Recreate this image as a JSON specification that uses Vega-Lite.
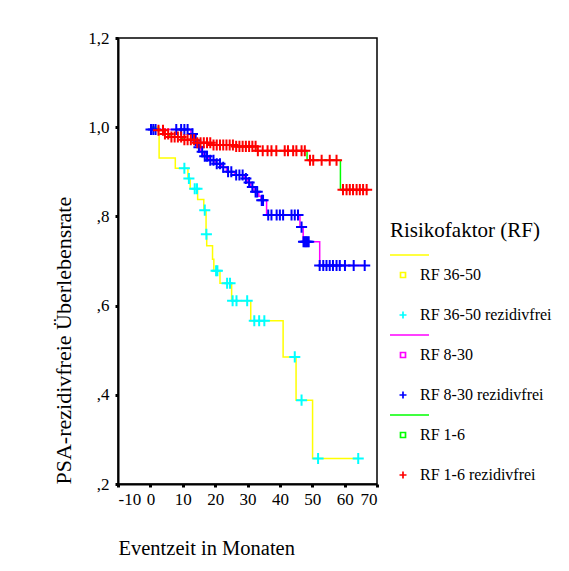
{
  "$schema": "https://vega.github.io/schema/vega-lite/v6.json",
  "width": 259,
  "height": 446,
  "autosize": "none",
  "padding": {"left": 118, "top": 38, "right": 192, "bottom": 87},
  "background": "white",
  "config": {
    "view": {"stroke": "black", "strokeWidth": 1.5},
    "font": "'Liberation Serif', 'Times New Roman', serif"
  },
  "datasets": {
    "km": [
      {"kurve": "RF 36-50", "monate": 0, "rate": 1.0},
      {"kurve": "RF 36-50", "monate": 2.7, "rate": 0.931},
      {"kurve": "RF 36-50", "monate": 7.7, "rate": 0.908},
      {"kurve": "RF 36-50", "monate": 11.6, "rate": 0.885},
      {"kurve": "RF 36-50", "monate": 12.3, "rate": 0.862},
      {"kurve": "RF 36-50", "monate": 14.6, "rate": 0.838},
      {"kurve": "RF 36-50", "monate": 16.5, "rate": 0.814},
      {"kurve": "RF 36-50", "monate": 17.2, "rate": 0.760},
      {"kurve": "RF 36-50", "monate": 17.4, "rate": 0.734},
      {"kurve": "RF 36-50", "monate": 19.2, "rate": 0.704},
      {"kurve": "RF 36-50", "monate": 19.6, "rate": 0.678},
      {"kurve": "RF 36-50", "monate": 21.5, "rate": 0.650},
      {"kurve": "RF 36-50", "monate": 25.1, "rate": 0.611},
      {"kurve": "RF 36-50", "monate": 31.0, "rate": 0.566},
      {"kurve": "RF 36-50", "monate": 41.0, "rate": 0.485},
      {"kurve": "RF 36-50", "monate": 45.0, "rate": 0.388},
      {"kurve": "RF 36-50", "monate": 50.1, "rate": 0.257},
      {"kurve": "RF 36-50", "monate": 64.2, "rate": 0.257},

      {"kurve": "RF 36-50 rezidivfrei", "monate": 10.5, "rate": 0.908},
      {"kurve": "RF 36-50 rezidivfrei", "monate": 11.9, "rate": 0.885},
      {"kurve": "RF 36-50 rezidivfrei", "monate": 13.7, "rate": 0.862},
      {"kurve": "RF 36-50 rezidivfrei", "monate": 14.4, "rate": 0.862},
      {"kurve": "RF 36-50 rezidivfrei", "monate": 16.8, "rate": 0.814},
      {"kurve": "RF 36-50 rezidivfrei", "monate": 17.3, "rate": 0.760},
      {"kurve": "RF 36-50 rezidivfrei", "monate": 20.3, "rate": 0.678},
      {"kurve": "RF 36-50 rezidivfrei", "monate": 20.7, "rate": 0.678},
      {"kurve": "RF 36-50 rezidivfrei", "monate": 23.7, "rate": 0.650},
      {"kurve": "RF 36-50 rezidivfrei", "monate": 24.6, "rate": 0.650},
      {"kurve": "RF 36-50 rezidivfrei", "monate": 25.4, "rate": 0.611},
      {"kurve": "RF 36-50 rezidivfrei", "monate": 26.6, "rate": 0.611},
      {"kurve": "RF 36-50 rezidivfrei", "monate": 29.9, "rate": 0.611},
      {"kurve": "RF 36-50 rezidivfrei", "monate": 32.1, "rate": 0.566},
      {"kurve": "RF 36-50 rezidivfrei", "monate": 33.6, "rate": 0.566},
      {"kurve": "RF 36-50 rezidivfrei", "monate": 35.2, "rate": 0.566},
      {"kurve": "RF 36-50 rezidivfrei", "monate": 44.6, "rate": 0.485},
      {"kurve": "RF 36-50 rezidivfrei", "monate": 46.7, "rate": 0.388},
      {"kurve": "RF 36-50 rezidivfrei", "monate": 51.8, "rate": 0.257},
      {"kurve": "RF 36-50 rezidivfrei", "monate": 64.2, "rate": 0.257},

      {"kurve": "RF 8-30", "monate": 0, "rate": 1.0},
      {"kurve": "RF 8-30", "monate": 0.5, "rate": 0.995},
      {"kurve": "RF 8-30", "monate": 12.5, "rate": 0.985},
      {"kurve": "RF 8-30", "monate": 13.5, "rate": 0.97},
      {"kurve": "RF 8-30", "monate": 14.5, "rate": 0.955},
      {"kurve": "RF 8-30", "monate": 15.5, "rate": 0.945},
      {"kurve": "RF 8-30", "monate": 16.5, "rate": 0.935},
      {"kurve": "RF 8-30", "monate": 18.0, "rate": 0.926},
      {"kurve": "RF 8-30", "monate": 20.0, "rate": 0.918},
      {"kurve": "RF 8-30", "monate": 22.0, "rate": 0.91},
      {"kurve": "RF 8-30", "monate": 23.5, "rate": 0.90},
      {"kurve": "RF 8-30", "monate": 26.0, "rate": 0.893},
      {"kurve": "RF 8-30", "monate": 29.0, "rate": 0.885},
      {"kurve": "RF 8-30", "monate": 30.0, "rate": 0.876},
      {"kurve": "RF 8-30", "monate": 31.0, "rate": 0.866},
      {"kurve": "RF 8-30", "monate": 32.0, "rate": 0.855},
      {"kurve": "RF 8-30", "monate": 33.5, "rate": 0.845},
      {"kurve": "RF 8-30", "monate": 34.2, "rate": 0.836},
      {"kurve": "RF 8-30", "monate": 35.9, "rate": 0.803},
      {"kurve": "RF 8-30", "monate": 46.2, "rate": 0.776},
      {"kurve": "RF 8-30", "monate": 47.2, "rate": 0.743},
      {"kurve": "RF 8-30", "monate": 52.3, "rate": 0.69},
      {"kurve": "RF 8-30", "monate": 66.2, "rate": 0.69},

      {"kurve": "RF 8-30 rezidivfrei", "monate": 0.2, "rate": 0.995},
      {"kurve": "RF 8-30 rezidivfrei", "monate": 0.9, "rate": 0.995},
      {"kurve": "RF 8-30 rezidivfrei", "monate": 1.6, "rate": 0.995},
      {"kurve": "RF 8-30 rezidivfrei", "monate": 8.0, "rate": 0.995},
      {"kurve": "RF 8-30 rezidivfrei", "monate": 9.5, "rate": 0.995},
      {"kurve": "RF 8-30 rezidivfrei", "monate": 10.5, "rate": 0.995},
      {"kurve": "RF 8-30 rezidivfrei", "monate": 11.5, "rate": 0.995},
      {"kurve": "RF 8-30 rezidivfrei", "monate": 13.0, "rate": 0.985},
      {"kurve": "RF 8-30 rezidivfrei", "monate": 14.0, "rate": 0.97},
      {"kurve": "RF 8-30 rezidivfrei", "monate": 15.0, "rate": 0.955},
      {"kurve": "RF 8-30 rezidivfrei", "monate": 16.0, "rate": 0.945},
      {"kurve": "RF 8-30 rezidivfrei", "monate": 16.8, "rate": 0.935},
      {"kurve": "RF 8-30 rezidivfrei", "monate": 17.5, "rate": 0.935},
      {"kurve": "RF 8-30 rezidivfrei", "monate": 18.5, "rate": 0.926},
      {"kurve": "RF 8-30 rezidivfrei", "monate": 19.5, "rate": 0.926},
      {"kurve": "RF 8-30 rezidivfrei", "monate": 20.5, "rate": 0.918},
      {"kurve": "RF 8-30 rezidivfrei", "monate": 21.5, "rate": 0.918},
      {"kurve": "RF 8-30 rezidivfrei", "monate": 22.5, "rate": 0.91},
      {"kurve": "RF 8-30 rezidivfrei", "monate": 24.0, "rate": 0.90},
      {"kurve": "RF 8-30 rezidivfrei", "monate": 25.0, "rate": 0.90},
      {"kurve": "RF 8-30 rezidivfrei", "monate": 26.5, "rate": 0.893},
      {"kurve": "RF 8-30 rezidivfrei", "monate": 27.5, "rate": 0.893},
      {"kurve": "RF 8-30 rezidivfrei", "monate": 28.5, "rate": 0.893},
      {"kurve": "RF 8-30 rezidivfrei", "monate": 29.5, "rate": 0.885},
      {"kurve": "RF 8-30 rezidivfrei", "monate": 30.5, "rate": 0.876},
      {"kurve": "RF 8-30 rezidivfrei", "monate": 31.5, "rate": 0.866},
      {"kurve": "RF 8-30 rezidivfrei", "monate": 32.5, "rate": 0.855},
      {"kurve": "RF 8-30 rezidivfrei", "monate": 33.0, "rate": 0.855},
      {"kurve": "RF 8-30 rezidivfrei", "monate": 34.4, "rate": 0.836},
      {"kurve": "RF 8-30 rezidivfrei", "monate": 34.8, "rate": 0.836},
      {"kurve": "RF 8-30 rezidivfrei", "monate": 36.4, "rate": 0.803},
      {"kurve": "RF 8-30 rezidivfrei", "monate": 37.4, "rate": 0.803},
      {"kurve": "RF 8-30 rezidivfrei", "monate": 39.0, "rate": 0.803},
      {"kurve": "RF 8-30 rezidivfrei", "monate": 40.0, "rate": 0.803},
      {"kurve": "RF 8-30 rezidivfrei", "monate": 41.0, "rate": 0.803},
      {"kurve": "RF 8-30 rezidivfrei", "monate": 43.6, "rate": 0.803},
      {"kurve": "RF 8-30 rezidivfrei", "monate": 44.6, "rate": 0.803},
      {"kurve": "RF 8-30 rezidivfrei", "monate": 45.6, "rate": 0.803},
      {"kurve": "RF 8-30 rezidivfrei", "monate": 46.7, "rate": 0.776},
      {"kurve": "RF 8-30 rezidivfrei", "monate": 47.3, "rate": 0.743},
      {"kurve": "RF 8-30 rezidivfrei", "monate": 47.7, "rate": 0.743},
      {"kurve": "RF 8-30 rezidivfrei", "monate": 48.1, "rate": 0.743},
      {"kurve": "RF 8-30 rezidivfrei", "monate": 48.5, "rate": 0.743},
      {"kurve": "RF 8-30 rezidivfrei", "monate": 48.9, "rate": 0.743},
      {"kurve": "RF 8-30 rezidivfrei", "monate": 52.3, "rate": 0.69},
      {"kurve": "RF 8-30 rezidivfrei", "monate": 53.4, "rate": 0.69},
      {"kurve": "RF 8-30 rezidivfrei", "monate": 54.4, "rate": 0.69},
      {"kurve": "RF 8-30 rezidivfrei", "monate": 55.4, "rate": 0.69},
      {"kurve": "RF 8-30 rezidivfrei", "monate": 56.4, "rate": 0.69},
      {"kurve": "RF 8-30 rezidivfrei", "monate": 57.5, "rate": 0.69},
      {"kurve": "RF 8-30 rezidivfrei", "monate": 58.5, "rate": 0.69},
      {"kurve": "RF 8-30 rezidivfrei", "monate": 60.1, "rate": 0.69},
      {"kurve": "RF 8-30 rezidivfrei", "monate": 62.8, "rate": 0.69},
      {"kurve": "RF 8-30 rezidivfrei", "monate": 66.2, "rate": 0.69},

      {"kurve": "RF 1-6", "monate": 0, "rate": 1.0},
      {"kurve": "RF 1-6", "monate": 1.5, "rate": 0.993},
      {"kurve": "RF 1-6", "monate": 4.2, "rate": 0.985},
      {"kurve": "RF 1-6", "monate": 6.0, "rate": 0.978},
      {"kurve": "RF 1-6", "monate": 10.0, "rate": 0.972},
      {"kurve": "RF 1-6", "monate": 14.0, "rate": 0.965},
      {"kurve": "RF 1-6", "monate": 19.0, "rate": 0.96},
      {"kurve": "RF 1-6", "monate": 26.0, "rate": 0.957},
      {"kurve": "RF 1-6", "monate": 33.0, "rate": 0.947},
      {"kurve": "RF 1-6", "monate": 48.4, "rate": 0.926},
      {"kurve": "RF 1-6", "monate": 58.7, "rate": 0.86},
      {"kurve": "RF 1-6", "monate": 66.8, "rate": 0.86},

      {"kurve": "RF 1-6 rezidivfrei", "monate": 2.5, "rate": 0.993},
      {"kurve": "RF 1-6 rezidivfrei", "monate": 3.9, "rate": 0.993},
      {"kurve": "RF 1-6 rezidivfrei", "monate": 4.5, "rate": 0.985},
      {"kurve": "RF 1-6 rezidivfrei", "monate": 5.5, "rate": 0.985},
      {"kurve": "RF 1-6 rezidivfrei", "monate": 6.5, "rate": 0.978},
      {"kurve": "RF 1-6 rezidivfrei", "monate": 7.5, "rate": 0.978},
      {"kurve": "RF 1-6 rezidivfrei", "monate": 8.5, "rate": 0.978},
      {"kurve": "RF 1-6 rezidivfrei", "monate": 9.5, "rate": 0.978},
      {"kurve": "RF 1-6 rezidivfrei", "monate": 10.5, "rate": 0.972},
      {"kurve": "RF 1-6 rezidivfrei", "monate": 11.5, "rate": 0.972},
      {"kurve": "RF 1-6 rezidivfrei", "monate": 12.5, "rate": 0.972},
      {"kurve": "RF 1-6 rezidivfrei", "monate": 13.5, "rate": 0.972},
      {"kurve": "RF 1-6 rezidivfrei", "monate": 14.5, "rate": 0.965},
      {"kurve": "RF 1-6 rezidivfrei", "monate": 15.5, "rate": 0.965},
      {"kurve": "RF 1-6 rezidivfrei", "monate": 16.5, "rate": 0.965},
      {"kurve": "RF 1-6 rezidivfrei", "monate": 17.5, "rate": 0.965},
      {"kurve": "RF 1-6 rezidivfrei", "monate": 18.5, "rate": 0.965},
      {"kurve": "RF 1-6 rezidivfrei", "monate": 19.5, "rate": 0.96},
      {"kurve": "RF 1-6 rezidivfrei", "monate": 20.5, "rate": 0.96},
      {"kurve": "RF 1-6 rezidivfrei", "monate": 21.5, "rate": 0.96},
      {"kurve": "RF 1-6 rezidivfrei", "monate": 22.5, "rate": 0.96},
      {"kurve": "RF 1-6 rezidivfrei", "monate": 23.5, "rate": 0.96},
      {"kurve": "RF 1-6 rezidivfrei", "monate": 24.5, "rate": 0.96},
      {"kurve": "RF 1-6 rezidivfrei", "monate": 25.5, "rate": 0.96},
      {"kurve": "RF 1-6 rezidivfrei", "monate": 26.5, "rate": 0.957},
      {"kurve": "RF 1-6 rezidivfrei", "monate": 27.5, "rate": 0.957},
      {"kurve": "RF 1-6 rezidivfrei", "monate": 28.5, "rate": 0.957},
      {"kurve": "RF 1-6 rezidivfrei", "monate": 29.5, "rate": 0.957},
      {"kurve": "RF 1-6 rezidivfrei", "monate": 30.5, "rate": 0.957},
      {"kurve": "RF 1-6 rezidivfrei", "monate": 31.5, "rate": 0.957},
      {"kurve": "RF 1-6 rezidivfrei", "monate": 32.5, "rate": 0.957},
      {"kurve": "RF 1-6 rezidivfrei", "monate": 33.2, "rate": 0.947},
      {"kurve": "RF 1-6 rezidivfrei", "monate": 34.7, "rate": 0.947},
      {"kurve": "RF 1-6 rezidivfrei", "monate": 36.2, "rate": 0.947},
      {"kurve": "RF 1-6 rezidivfrei", "monate": 37.4, "rate": 0.947},
      {"kurve": "RF 1-6 rezidivfrei", "monate": 38.9, "rate": 0.947},
      {"kurve": "RF 1-6 rezidivfrei", "monate": 41.5, "rate": 0.947},
      {"kurve": "RF 1-6 rezidivfrei", "monate": 42.5, "rate": 0.947},
      {"kurve": "RF 1-6 rezidivfrei", "monate": 44.1, "rate": 0.947},
      {"kurve": "RF 1-6 rezidivfrei", "monate": 45.1, "rate": 0.947},
      {"kurve": "RF 1-6 rezidivfrei", "monate": 46.7, "rate": 0.947},
      {"kurve": "RF 1-6 rezidivfrei", "monate": 47.7, "rate": 0.947},
      {"kurve": "RF 1-6 rezidivfrei", "monate": 49.3, "rate": 0.926},
      {"kurve": "RF 1-6 rezidivfrei", "monate": 50.3, "rate": 0.926},
      {"kurve": "RF 1-6 rezidivfrei", "monate": 52.9, "rate": 0.926},
      {"kurve": "RF 1-6 rezidivfrei", "monate": 55.4, "rate": 0.926},
      {"kurve": "RF 1-6 rezidivfrei", "monate": 57.5, "rate": 0.926},
      {"kurve": "RF 1-6 rezidivfrei", "monate": 59.5, "rate": 0.86},
      {"kurve": "RF 1-6 rezidivfrei", "monate": 60.6, "rate": 0.86},
      {"kurve": "RF 1-6 rezidivfrei", "monate": 61.6, "rate": 0.86},
      {"kurve": "RF 1-6 rezidivfrei", "monate": 62.6, "rate": 0.86},
      {"kurve": "RF 1-6 rezidivfrei", "monate": 63.7, "rate": 0.86},
      {"kurve": "RF 1-6 rezidivfrei", "monate": 64.7, "rate": 0.86},
      {"kurve": "RF 1-6 rezidivfrei", "monate": 65.7, "rate": 0.86},
      {"kurve": "RF 1-6 rezidivfrei", "monate": 66.8, "rate": 0.86}
    ]
  },
  "data": {"name": "km"},
  "encoding": {
    "x": {
      "field": "monate", "type": "quantitative",
      "scale": {"domain": [-10, 70], "nice": false, "zero": false},
      "axis": {
        "title": "Eventzeit in Monaten", "values": [-10, 0, 10, 20, 30, 40, 50, 60, 70],
        "labelExpr": "replace(datum.label, '\u2212', '-')",
        "grid": false, "labelFontSize": 17, "labelColor": "black", "labelPadding": 4,
        "tickSize": 3, "tickWidth": 3, "tickColor": "black", "domainColor": "black", "domainWidth": 2,
        "titleFontSize": 20.5, "titleFontWeight": "normal", "titleColor": "black",
        "titleAnchor": "start", "titlePadding": 31
      }
    },
    "y": {
      "field": "rate", "type": "quantitative",
      "scale": {"domain": [0.2, 1.2], "nice": false, "zero": false},
      "axis": {
        "title": "PSA-rezidivfreie Überlebensrate", "values": [0.2, 0.4, 0.6, 0.8, 1.0, 1.2],
        "labelExpr": "datum.value >= 1 ? replace(format(datum.value, '.1f'), '.', ',') : replace(format(datum.value, '.1f'), '0.', ',')",
        "grid": false, "labelFontSize": 17, "labelColor": "black", "labelPadding": 6,
        "tickSize": 3, "tickWidth": 3, "tickColor": "black", "domainColor": "black", "domainWidth": 2,
        "titleFontSize": 22, "titleFontWeight": "normal", "titleColor": "black",
        "titleAnchor": "start", "titlePadding": 12
      }
    },
    "color": {
      "field": "kurve", "type": "nominal",
      "scale": {
        "domain": ["L1", "RF 36-50", "B1", "RF 36-50 rezidivfrei", "L2", "RF 8-30", "B2", "RF 8-30 rezidivfrei", "L3", "RF 1-6", "B3", "RF 1-6 rezidivfrei"],
        "range": ["#FFFF00", "#FFFF00", "#FFFFFF", "#00FFFF", "#FF00FF", "#FF00FF", "#FFFFFF", "#0000FF", "#00FF00", "#00FF00", "#FFFFFF", "#FF0000"]
      },
      "legend": {
        "title": "Risikofaktor (RF)", "orient": "none", "legendX": 272, "legendY": 182,
        "titleFontSize": 21, "titleFontWeight": "normal", "titleColor": "black", "titlePadding": 6,
        "labelFontSize": 16, "labelColor": "black", "labelOffset": 9, "symbolOffset": 5,
        "labelExpr": "length(datum.label) <= 2 ? '' : datum.label",
        "symbolSize": 100, "symbolStrokeWidth": 1.7, "rowPadding": 4, "symbolOpacity": 1
      }
    }
  },
  "layer": [
    {
      "transform": [{"filter": "indexof(datum.kurve, 'rezidivfrei') < 0"}],
      "mark": {"type": "line", "interpolate": "step-after", "strokeWidth": 1.5},
      "encoding": {"order": {"field": "monate", "type": "quantitative"}}
    },
    {
      "transform": [{"filter": "indexof(datum.kurve, 'rezidivfrei') >= 0"}],
      "mark": {"type": "point", "filled": false, "size": 250, "strokeWidth": 2, "opacity": 1},
      "encoding": {
        "shape": {
          "field": "kurve", "type": "nominal",
          "scale": {
            "domain": ["L1", "RF 36-50", "B1", "RF 36-50 rezidivfrei", "L2", "RF 8-30", "B2", "RF 8-30 rezidivfrei", "L3", "RF 1-6", "B3", "RF 1-6 rezidivfrei"],
            "range": ["M-2.6,0H5.2", "M-0.5,-0.5H0.5V0.5H-0.5Z", "M0,0", "M-0.7,0H0.7M0,-0.7V0.7", "M-2.6,0H5.2", "M-0.5,-0.5H0.5V0.5H-0.5Z", "M0,0", "M-0.7,0H0.7M0,-0.7V0.7", "M-2.6,0H5.2", "M-0.5,-0.5H0.5V0.5H-0.5Z", "M0,0", "M-0.7,0H0.7M0,-0.7V0.7"]
          }
        }
      }
    }
  ]
}
